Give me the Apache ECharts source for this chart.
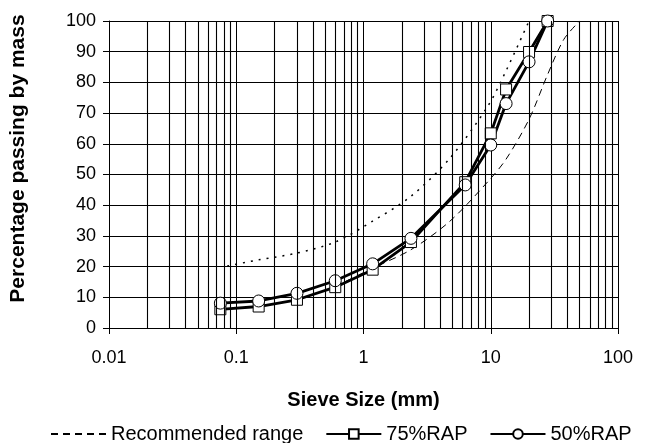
<!DOCTYPE html>
<html>
<head>
<meta charset="utf-8">
<script src="https://cdn.jsdelivr.net/npm/echarts@6/dist/echarts.min.js"></script>
<style>
    html, body { margin: 0; padding: 0; background: #fff; }
    #chart { width: 649px; height: 443px; }
</style>
</head>
<body>
<div id="chart"></div>
<script>
    // sieve sizes (mm) and percentage passing
    var sieveSizes = [0.075, 0.15, 0.3, 0.6, 1.18, 2.36, 6.3, 10, 13.2, 20, 28];
    var rap75 = [6.1, 7.0, 9.2, 13.3, 19.0, 28.0, 47.5, 63.4, 77.7, 89.9, 100];
    var rap50 = [8.1, 8.8, 11.3, 15.4, 20.9, 29.2, 46.6, 59.6, 73.1, 86.7, 100];

    // recommended range, upper (dotted) and lower (dashed) limits
    var upperSizes = [0.085, 0.15, 0.3, 0.6, 1.18, 2.36, 4.75, 9.5, 13.2, 20];
    var upperLimit = [20.2, 22.2, 24.4, 28.0, 34.8, 42.9, 55.2, 72.3, 83.8, 100];
    var lowerSizes = [0.6, 1.18, 2.36, 4.75, 9.5, 13.2, 20, 28, 37.5, 50];
    var lowerLimit = [13.5, 19.5, 25.5, 34.7, 47.7, 55, 68, 82.6, 94, 100];

    var xTicks = [0.01, 0.1, 1, 10, 100];
    var yTicks = [0, 10, 20, 30, 40, 50, 60, 70, 80, 90, 100];

    function pairs(xs, ys) {
        return xs.map(function (x, i) { return [x, ys[i]]; });
    }

    // minor vertical grid lines at 2..9 of every decade
    function minorLines() {
        var lines = [];
        for (var d = 0; d < xTicks.length - 1; d++) {
            for (var k = 2; k <= 9; k++) {
                lines.push({ xAxis: +(xTicks[d] * k).toPrecision(3) });
            }
        }
        return lines;
    }

    var font = 'Liberation Sans, Arial, sans-serif';
    var chart = echarts.init(document.getElementById('chart'));

    chart.setOption({
        animation: false,
        textStyle: { fontFamily: font, color: '#000' },
        grid: { left: 107, right: 31, top: 21, bottom: 115 },
        legend: {
            data: [
                { name: 'Recommended range', itemStyle: { opacity: 0 } },
                '75%RAP',
                '50%RAP'
            ],
            left: 45,
            top: 419,
            itemWidth: 55,
            itemHeight: 12,
            itemGap: 22,
            textStyle: { fontSize: 20, color: '#000', fontFamily: font }
        },
        xAxis: {
            type: 'log',
            logBase: 10,
            min: xTicks[0],
            max: xTicks[xTicks.length - 1],
            name: 'Sieve Size (mm)',
            nameLocation: 'middle',
            nameGap: 62,
            nameTextStyle: { fontSize: 20, fontWeight: 'bold', color: '#000' },
            axisLine: { lineStyle: { color: '#000', width: 1 } },
            axisTick: { show: true, length: 6, lineStyle: { color: '#000' } },
            axisLabel: {
                fontSize: 18, color: '#000', margin: 21,
                formatter: function (v) { return String(+v.toPrecision(2)); }
            },
            splitLine: { show: true, lineStyle: { color: '#000', width: 1 } }
        },
        yAxis: {
            type: 'value',
            min: yTicks[0],
            max: yTicks[yTicks.length - 1],
            interval: 10,
            name: 'Percentage passing by mass',
            nameLocation: 'middle',
            nameGap: 80,
            nameTextStyle: {
                fontSize: 21, fontWeight: 'bold', color: '#000',
                padding: [0, 0, 0, 32]
            },
            axisLine: { show: true, lineStyle: { color: '#000', width: 1 } },
            axisTick: { show: true, length: 6, lineStyle: { color: '#000' } },
            axisLabel: { fontSize: 18, color: '#000', margin: 13 },
            splitLine: { show: true, lineStyle: { color: '#000', width: 1 } }
        },
        series: [
            {
                name: 'grid',
                type: 'line',
                data: [],
                z: 1,
                markLine: {
                    silent: true,
                    symbol: 'none',
                    label: { show: false },
                    lineStyle: { color: '#000', width: 1.1, type: 'solid' },
                    emphasis: { disabled: true },
                    data: minorLines()
                }
            },
            {
                name: 'Recommended range',
                type: 'line',
                data: pairs(lowerSizes, lowerLimit),
                smooth: 0.3,
                showSymbol: false,
                symbol: 'none',
                lineStyle: { color: '#000', width: 1, type: [7, 5] },
                itemStyle: { color: '#000' }
            },
            {
                name: 'Recommended range',
                type: 'line',
                data: pairs(upperSizes, upperLimit),
                smooth: 0.3,
                showSymbol: false,
                symbol: 'none',
                lineStyle: { color: '#000', width: 1.5, type: [2, 6] },
                itemStyle: { color: '#000' }
            },
            {
                name: '75%RAP',
                type: 'line',
                data: pairs(sieveSizes, rap75),
                symbol: 'rect',
                symbolSize: 11,
                lineStyle: { color: '#000', width: 2.8 },
                itemStyle: { color: '#fff', borderColor: '#000', borderWidth: 1 }
            },
            {
                name: '50%RAP',
                type: 'line',
                data: pairs(sieveSizes, rap50),
                symbol: 'circle',
                symbolSize: 12,
                lineStyle: { color: '#000', width: 2.8 },
                itemStyle: { color: '#fff', borderColor: '#000', borderWidth: 1 }
            }
        ]
    });
</script>
</body>
</html>
